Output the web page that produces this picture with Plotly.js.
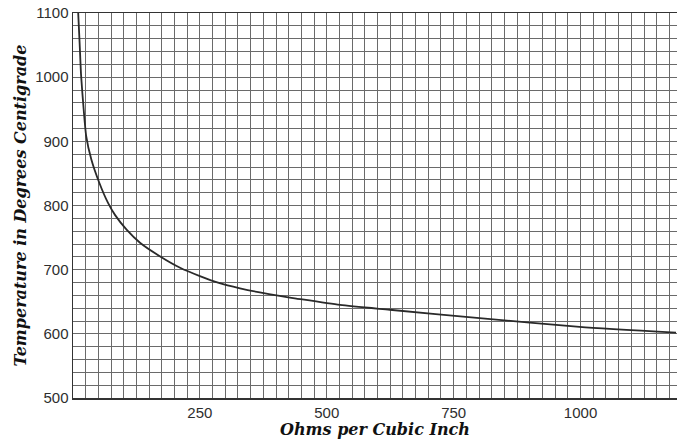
<!DOCTYPE html>
<html>
<head>
<meta charset="utf-8">
<script src="https://cdn.plot.ly/plotly-3.0.1.min.js"></script>
<style>html,body{margin:0;padding:0;background:#fff;}#chart{width:677px;height:441px;}</style>
</head>
<body>
<div id="chart"></div>
<script>
// Resistance (ohms per cubic inch) vs temperature (degrees centigrade)
const ohms = [10, 13, 16, 21, 26, 36, 52, 69, 83, 106, 132, 171, 211, 250, 289, 329, 368, 407, 440, 526, 624, 801, 998, 1188];
const temperature = [1104, 1054, 1002, 950, 908, 872, 835, 804, 785, 762, 742, 721, 703, 690, 679, 671, 664.5, 659, 655, 645, 637.5, 624.5, 611, 602];
const xTickVals = [250, 500, 750, 1000];
const xTickText = ['250', '500', '750', '1000'];
const yTickVals = [500, 600, 700, 800, 900, 1000, 1100];
const yTickText = ['500', '600', '700', '800', '900', '1000', '1100'];

const gridColor = '#6a6a6a';
const tickFont = {family: 'Liberation Sans, Arial, sans-serif', size: 15, color: '#2e2e2e'};
const titleFont = {family: 'DejaVu Serif, serif', size: 16, color: '#111', weight: 'bold', style: 'italic'};

const trace = {
  x: ohms, y: temperature, type: 'scatter', mode: 'lines',
  line: {color: '#2a2a2a', width: 1.8, shape: 'spline', smoothing: 0.6},
  hoverinfo: 'x+y', showlegend: false
};

const layout = {
  width: 677, height: 441,
  margin: {l: 73, r: 0, t: 13, b: 43},
  paper_bgcolor: '#ffffff', plot_bgcolor: '#ffffff',
  xaxis: {
    range: [0, 1190], tickmode: 'array', tickvals: xTickVals, ticktext: xTickText,
    showgrid: true, gridcolor: gridColor, gridwidth: 1,
    minor: {tickmode: 'linear', tick0: 0, dtick: 25, showgrid: true, gridcolor: gridColor, gridwidth: 1, ticks: ''},
    showline: true, linecolor: '#333', linewidth: 1.5, mirror: true,
    ticks: '', tickfont: tickFont, zeroline: false,
    title: {text: 'Ohms per Cubic Inch', font: titleFont, standoff: 4}
  },
  yaxis: {
    range: [500, 1100], tickmode: 'array', tickvals: yTickVals, ticktext: yTickText,
    showgrid: true, gridcolor: gridColor, gridwidth: 1,
    minor: {tickmode: 'linear', tick0: 500, dtick: 20, showgrid: true, gridcolor: gridColor, gridwidth: 1, ticks: ''},
    showline: true, linecolor: '#333', linewidth: 1.5, mirror: true,
    ticks: '', tickfont: tickFont, zeroline: false,
    title: {text: 'Temperature in Degrees Centigrade', font: titleFont, standoff: 4}
  }
};

Plotly.newPlot('chart', [trace], layout, {staticPlot: true, displayModeBar: false});
</script>
</body>
</html>
